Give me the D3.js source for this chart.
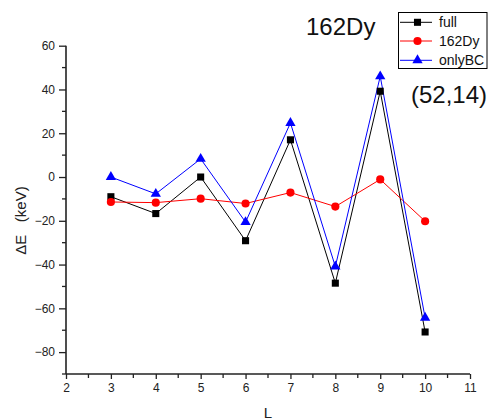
<!DOCTYPE html>
<html><head><meta charset="utf-8">
<script src="https://cdn.jsdelivr.net/npm/d3@7"></script>
<style>body{margin:0;background:#fff;} svg{display:block;font-family:Arial,"Liberation Sans",sans-serif;}</style>
</head><body>
<svg id="c" width="490" height="420"></svg>
<script>
const L = [3, 4, 5, 6, 7, 8, 9, 10];
const full = [-9, -16.7, 0, -29.1, 17, -48.5, 39.2, -70.8];
const dy162 = [-11.4, -11.7, -9.9, -12.1, -7.1, -13.5, -1.1, -20.2];
const onlyBC = [0, -7.7, 8.3, -20.6, 24.7, -40.9, 46, -64.3];
const xTicks = [2, 3, 4, 5, 6, 7, 8, 9, 10, 11];
const yTicks = [-80, -60, -40, -20, 0, 20, 40, 60];
const seriesNames = ["full", "162Dy", "onlyBC"];
const seriesColors = ["#000000", "#ff0000", "#0000ff"];
const seriesShapes = [d3.symbolSquare, d3.symbolCircle, d3.symbolTriangle];
const seriesSizes = [50, 52, 46];

const svg = d3.select("#c");
const x = d3.scaleLinear().domain([2, 11]).range([66, 470]);
const y = d3.scaleLinear().domain([-90, 60]).range([374, 45.7]);

// axes
const xAxis = d3.axisBottom(x).tickValues(xTicks).tickFormat(d3.format("d")).tickSize(5).tickPadding(4);
const gx = svg.append("g").attr("transform", `translate(0,${y(-90)})`).call(xAxis);
const xMinor = d3.range(2.5, 11, 1);
gx.selectAll(".minor").data(xMinor).enter().append("line").attr("class","minor")
  .attr("x1", d => x(d)).attr("x2", d => x(d)).attr("y1", 0).attr("y2", 4).attr("stroke", "#222").attr("stroke-width", 1.3);

const yAxis = d3.axisLeft(y).tickValues(yTicks).tickSize(7).tickPadding(4);
const gy = svg.append("g").attr("transform", `translate(${x(2)},0)`).call(yAxis);
const yMinor = [-90, -70, -50, -30, -10, 10, 30, 50];
gy.selectAll(".minor").data(yMinor).enter().append("line").attr("class","minor")
  .attr("x1", 0).attr("x2", -4).attr("y1", d => y(d)).attr("y2", d => y(d)).attr("stroke", "#222").attr("stroke-width", 1.3);

[gx, gy].forEach(g => {
  g.select(".domain").attr("stroke", "#222").attr("stroke-width", 1.6);
  g.selectAll(".tick line").attr("stroke", "#222").attr("stroke-width", 1.3);
  g.selectAll(".tick text").attr("font-size", 12).attr("fill", "#222").attr("font-family", "Arial, Liberation Sans, sans-serif");
});
gx.select(".domain").attr("d", `M${x(2)},0H${x(11)}`);
gy.select(".domain").attr("d", `M0,${y(-90)}V${y(60)}`);

// axis titles
svg.append("text").attr("x", (x(2)+x(11))/2).attr("y", 418).attr("text-anchor", "middle")
  .attr("font-size", 15).attr("fill", "#222").text("L");
svg.append("text").attr("transform", "translate(26,220.5) rotate(-90)").attr("text-anchor", "middle")
  .attr("font-size", 15).attr("fill", "#222").style("white-space", "pre").text("\u0394E   (keV)");

// series
const allData = [full, dy162, onlyBC];
const line = d3.line().x((d, i) => x(L[i])).y(d => y(d));
allData.forEach((vals, si) => {
  svg.append("path").datum(vals).attr("d", line).attr("fill", "none")
    .attr("stroke", seriesColors[si]).attr("stroke-width", 1);
});
allData.forEach((vals, si) => {
  svg.selectAll(null).data(vals).enter().append("path")
    .attr("d", d3.symbol().type(seriesShapes[si]).size(seriesSizes[si]))
    .attr("transform", (d, i) => `translate(${x(L[i])},${y(d)})`)
    .attr("fill", seriesColors[si]);
});

// annotations
svg.append("text").attr("x", 306).attr("y", 35).attr("font-size", 24).attr("fill", "#111").text("162Dy");
svg.append("text").attr("x", 411).attr("y", 103).attr("font-size", 24).attr("fill", "#111").text("(52,14)");

// legend
const lg = svg.append("g");
lg.append("rect").attr("x", 398.5).attr("y", 12.5).attr("width", 88.5).attr("height", 56)
  .attr("fill", "#fff").attr("stroke", "#000").attr("stroke-width", 1);
const rowsY = [22.3, 41, 60.3];
seriesNames.forEach((n, i) => {
  lg.append("line").attr("x1", 400).attr("x2", 432).attr("y1", rowsY[i]).attr("y2", rowsY[i])
    .attr("stroke", seriesColors[i]).attr("stroke-width", 1);
  lg.append("path").attr("d", d3.symbol().type(seriesShapes[i]).size(seriesSizes[i]))
    .attr("transform", `translate(417.5,${rowsY[i]})`).attr("fill", seriesColors[i]);
  lg.append("text").attr("x", 439).attr("y", rowsY[i]).attr("dy", "0.36em")
    .attr("font-size", 14).attr("fill", "#111").text(n);
});
</script>
</body></html>
